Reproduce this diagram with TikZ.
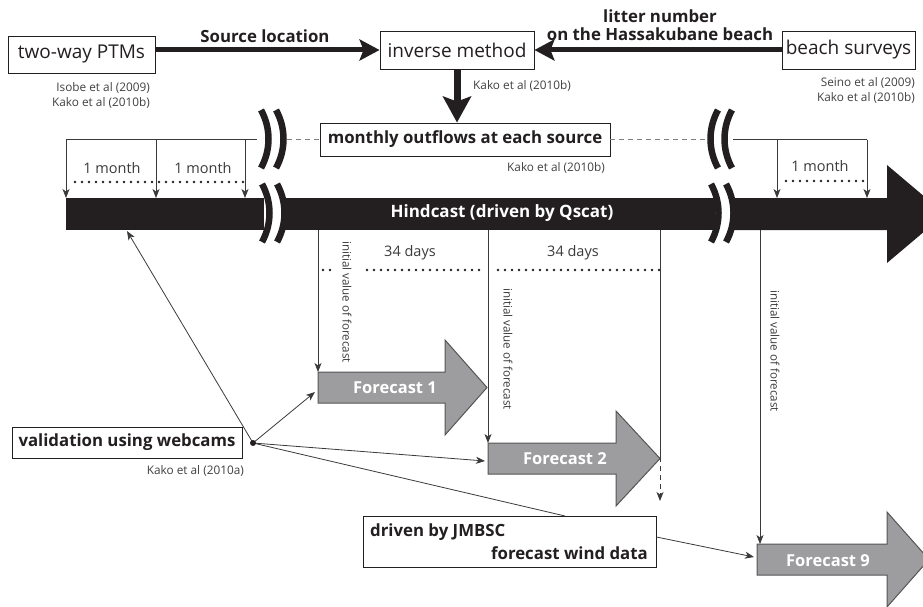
\documentclass[tikz,border=0pt]{standalone}
\usepackage{fontspec}
\setmainfont{Open Sans}
\usetikzlibrary{arrows.meta}
\definecolor{ink}{HTML}{231F20}
\definecolor{thinc}{HTML}{3A3A3A}
\definecolor{refc}{HTML}{404040}
\definecolor{fgray}{HTML}{9D9D9F}
\definecolor{fedge}{HTML}{555555}
\begin{document}
\begin{tikzpicture}[x=1pt,y=-1pt,
  box/.style={draw=ink, line width=0.9pt, fill=white, inner sep=0pt},
  bigtxt/.style={font=\fontsize{19}{22}\selectfont, text=ink},
  boldtxt/.style={font=\fontsize{16.8}{19}\selectfont\bfseries, text=ink},
  thickarrow/.style={line width=5pt, draw=ink, -{Stealth[length=20pt,width=21pt,inset=4pt]}},
  thinline/.style={draw=thinc, line width=0.8pt},
  tarrow/.style={thinline, -{Stealth[length=9pt,width=7pt,inset=2.5pt]}},
  dotline/.style={draw=ink, line width=2.6pt, line cap=round, dash pattern=on 0pt off 7pt},
  gdash/.style={draw=gray, line width=0.8pt, dash pattern=on 5pt off 4pt},
  fcast/.style={fill=fgray, draw=fedge, line width=1pt},
  fctxt/.style={font=\fontsize{16.5}{19}\selectfont\bfseries, text=white},
  reftxt/.style={font=\fontsize{11.8}{15.5}\selectfont, text=refc, inner sep=0pt, align=right},
  smalltxt/.style={font=\fontsize{14.5}{17}\selectfont, text=thinc, inner sep=0pt},
  rottxt/.style={font=\fontsize{11.6}{13}\selectfont, text=thinc, rotate=-90, inner sep=0pt},
  brk/.style={draw=ink, line width=6.5pt},
]
\useasboundingbox (0,0) rectangle (923,607);

% top boxes
\node[box, bigtxt, minimum width=147pt, minimum height=37pt] (ptm) at (81.5,54.5) {two-way PTMs};
\node[box, bigtxt, minimum width=154pt, minimum height=38pt] (inv) at (457,50) {inverse method};
\node[box, bigtxt, minimum width=133pt, minimum height=38pt] (beach) at (848.5,50) {beach surveys};
\draw[thickarrow] (ptm.east |- inv.west) -- (inv.west);
\draw[thickarrow] (beach.west) -- (inv.east);
\node[boldtxt] (srcl) at (265,36) {Source location};
\node[boldtxt] (lit1) at (660,16) {litter number};
\node[boldtxt] (lit2) at (660,34) {on the Hassakubane beach};
\node[reftxt, anchor=north east] (ref1) at (150,82) {Isobe et al (2009)\\Kako et al (2010b)};
\node[reftxt, anchor=west] (ref2) at (473,86) {Kako et al (2010b)};
\node[reftxt, anchor=north east] (ref3) at (915,77) {Seino et al (2009)\\Kako et al (2010b)};

% monthly outflows
\node[box, boldtxt, minimum width=290pt, minimum height=33pt] (mo) at (465,139.5) {monthly outflows at each source};
\draw[line width=7pt, draw=ink, -{Stealth[length=26pt,width=28pt,inset=5pt]}] (inv.south) -- (inv.south |- mo.north);
\node[reftxt, anchor=west] (ref4) at (507,168) {Kako et al (2010b)};
\coordinate (dl1) at (287,139.5);
\coordinate (dr1) at (706,139.5);
\draw[gdash] (dl1) -- (mo.west);
\draw[gdash] (mo.east) -- (dr1);

% bar
\fill[ink] (66,198) rectangle (264,230);
\fill[ink] (281,198) rectangle (715,230);
\fill[ink] (731,198) -- (887,198) -- (887,165) -- (945,214) -- (887,263) -- (887,230) -- (731,230) -- cycle;
\node[font=\fontsize{17}{20}\selectfont\bfseries, text=white] (hind) at (502,213) {Hindcast (driven by Qscat)};

% break marks
\draw[brk] (261,110) .. controls (271,128) and (271,150) .. (261,168);
\draw[brk] (276,110) .. controls (286,128) and (286,150) .. (276,168);
\draw[brk] (262,184) .. controls (272,202) and (272,224) .. (262,242);
\draw[brk] (277,184) .. controls (287,202) and (287,224) .. (277,242);
\draw[brk] (718,110) .. controls (708,128) and (708,150) .. (718,168);
\draw[brk] (732,110) .. controls (722,128) and (722,150) .. (732,168);
\draw[brk] (711,184) .. controls (721,202) and (721,224) .. (711,242);
\draw[brk] (726,184) .. controls (736,202) and (736,224) .. (726,242);

% left month ticks
\coordinate (m0) at (66,139.5);
\coordinate (m1) at (156,139.5);
\coordinate (m2) at (245,139.5);
\coordinate (m3) at (257,139.5);
\draw[thinline] (m0) -- (m3);
\foreach \c in {m0,m1,m2} \draw[tarrow] (\c) -- (\c |- 0,198);
\draw[dotline] (75,182) -- (245,182);
\node[smalltxt] (mon1) at (112,168) {1 month};
\node[smalltxt] (mon2) at (203,168) {1 month};

% right month ticks
\coordinate (r0) at (733,139.5);
\coordinate (r1) at (777,139.5);
\coordinate (r2) at (867,139.5);
\draw[thinline] (r0) -- (r2);
\foreach \c in {r1,r2} \draw[tarrow] (\c) -- (\c |- 0,198);
\draw[dotline] (786,181) -- (867,181);
\node[smalltxt] (mon3) at (820,166) {1 month};

% forecast arrows
\filldraw[fcast] (318,372) -- (445,372) -- (445,340) -- (487,387.5) -- (445,435) -- (445,403) -- (318,403) -- cycle;
\filldraw[fcast] (488,443) -- (616,443) -- (616,411) -- (660,458.5) -- (616,506) -- (616,474) -- (488,474) -- cycle;
\filldraw[fcast] (757,544) -- (887,544) -- (887,512) -- (929,559.5) -- (887,607) -- (887,575) -- (757,575) -- cycle;
\node[fctxt] (f1) at (395,388) {Forecast 1};
\node[fctxt] (f2) at (565,459) {Forecast 2};
\node[fctxt] (f9) at (828,561) {Forecast 9};

% initial value lines
\coordinate (v1) at (318,230);
\coordinate (v2) at (488,230);
\coordinate (v3) at (660,230);
\coordinate (v4) at (760,230);
\draw[tarrow] (v1) -- (318,372);
\draw[tarrow] (v2) -- (488,443);
\draw[thinline] (v3) -- (660,457);
\draw[tarrow, dash pattern=on 5pt off 4pt] (660,457) -- (660,501);
\draw[tarrow] (v4) -- (760,544);
\node[rottxt] (iv1) at (347,302) {initial value of forecast};
\node[rottxt] (iv2) at (508,349) {initial value of forecast};
\node[rottxt] (iv3) at (775,351) {initial value of forecast};

% 34 days
\draw[dotline] (323,270) -- (337,270);
\draw[dotline] (367,270) -- (485,270);
\draw[dotline] (498,270) -- (660,270);
\node[smalltxt] (d1) at (410,253) {34 days};
\node[smalltxt] (d2) at (573,253) {34 days};

% validation
\node[box, boldtxt, minimum width=230pt, minimum height=31pt] (val) at (127,442.5) {validation using webcams};
\node[reftxt, anchor=east] (ref5) at (244,471) {Kako et al (2010a)};
\coordinate (dot) at (253,443);
\coordinate (bartgt) at (127,231);
\coordinate (f1in) at (315,392);
\coordinate (f2in) at (485,461);
\node[box, minimum width=293pt, minimum height=51pt] (jm) at (509.5,541.5) {};
\node[boldtxt, anchor=west, inner sep=0pt] (jm1) at (370,532) {driven by JMBSC};
\node[boldtxt, anchor=east, inner sep=0pt] (jm2) at (648,553) {forecast wind data};
\coordinate (jmtop) at (565,516);
\coordinate (f9in) at (754,557);
\draw[tarrow] (dot) -- (bartgt);
\draw[tarrow] (dot) -- (f1in);
\draw[tarrow] (dot) -- (f2in);
\draw[thinline] (dot) -- (jmtop);
\draw[tarrow] (jm.east |- 0,537) -- (f9in);
\fill[ink] (dot) circle (3pt);
\end{tikzpicture}
\end{document}
